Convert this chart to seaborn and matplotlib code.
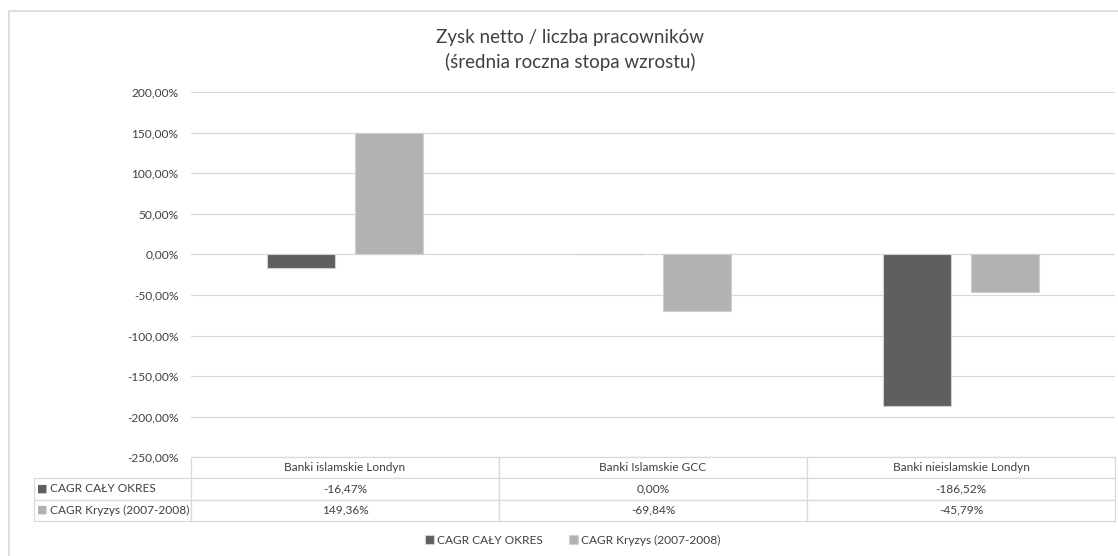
import matplotlib
matplotlib.use("Agg")
import matplotlib.pyplot as plt
import seaborn as sns
import pandas as pd
from matplotlib.patches import Rectangle
from matplotlib.ticker import FuncFormatter

# Data
categories = ['Banki islamskie Londyn', 'Banki Islamskie GCC', 'Banki nieislamskie Londyn']
series_names = ['CAGR CAŁY OKRES', 'CAGR Kryzys (2007-2008)']
cagr_caly = [-16.47, 0.00, -186.52]
cagr_kryzys = [149.36, -69.84, -45.79]
y_ticks = [-250, -200, -150, -100, -50, 0, 50, 100, 150, 200]

colors = ['#5f5f5f', '#b2b2b2']
text_col = '#404040'
grid_col = '#d9d9d9'

df = pd.DataFrame({
    'kategoria': categories * 2,
    'seria': [series_names[0]] * 3 + [series_names[1]] * 3,
    'wartosc': cagr_caly + cagr_kryzys,
})


def pl_pct(v, pos=None):
    return f"{v:.2f}".replace('.', ',') + '%'


sns.set_theme(style="white")
plt.rcParams['font.family'] = ['Lato', 'DejaVu Sans']

fig = plt.figure(figsize=(11.18, 5.56), dpi=100)
W, H = 1118, 556
ax = fig.add_axes([191 / W, 1 - 457.3 / H, 924 / W, 365.3 / H])

sns.barplot(data=df, x='kategoria', y='wartosc', hue='seria', order=categories,
            hue_order=series_names, palette=colors, width=0.571, gap=0.22,
            edgecolor='#d0d0d0', linewidth=0.8, saturation=1, ax=ax, zorder=3)

ax.set_xlim(-0.5, 2.5)
ax.set_ylim(-250, 200)
ax.set_yticks(y_ticks)
ax.yaxis.set_major_formatter(FuncFormatter(pl_pct))
ax.grid(axis='y', color=grid_col, linewidth=0.9, zorder=0)
ax.grid(axis='x', visible=False)
for s in ax.spines.values():
    s.set_visible(False)
ax.set_xticklabels([])
ax.set_xlabel('')
ax.set_ylabel('')
ax.tick_params(axis='both', length=0)
ax.tick_params(axis='y', labelsize=8.6, labelcolor=text_col, pad=9)

handles, labels = ax.get_legend_handles_labels()
ax.get_legend().remove()

# Data table under the plot
cell_text = [[name] + [pl_pct(v) for v in vals]
             for name, vals in zip(series_names, [cagr_caly, cagr_kryzys])]
tbl = ax.table(cellText=cell_text, colLabels=[''] + categories,
               colWidths=[157, 308, 308, 308], cellLoc='center',
               bbox=[(34 - 191) / 924, -63.4 / 365.3, 1081 / 924, 63.4 / 365.3])
tbl.auto_set_font_size(False)
tbl.set_fontsize(8.6)
for (r, c), cell in tbl.get_celld().items():
    cell.set_edgecolor(grid_col)
    cell.set_linewidth(0.9)
    cell.get_text().set_color(text_col)
    if r == 0 and c == 0:
        cell.visible_edges = ''
    if c == 0 and r > 0:
        cell.get_text().set_ha('left')
        cell.PAD = 0.105
        cell._loc = 'left'

# colored squares in the row labels
for i, col in enumerate(colors):
    yc = (457.3 - (488.8 + i * 21.2)) / 365.3
    ax.text((42.5 - 191) / 924, yc, '■', transform=ax.transAxes, ha='center', va='center',
            color=col, fontsize=8, family=['DejaVu Sans'])

# Title
fig.text(570 / W, 1 - 37 / H, 'Zysk netto / liczba pracowników', ha='center', va='center',
         fontsize=13.5, color=text_col)
fig.text(570 / W, 1 - 62 / H, '(średnia roczna stopa wzrostu)', ha='center', va='center',
         fontsize=13.5, color=text_col)

# Legend
fig.legend(handles, labels, loc='center', bbox_to_anchor=(573 / W, 16 / H), ncol=2,
           frameon=False, fontsize=8.6, labelcolor=text_col, handlelength=0.7,
           handleheight=0.7, handletextpad=0.3, columnspacing=2.2)

# chart border
fig.add_artist(Rectangle((8.5 / W, -0.2), 1.2, 1.2 - 11 / H, transform=fig.transFigure,
                         fill=False, edgecolor=grid_col, linewidth=1.2))

fig.savefig('out.png', dpi=100)
